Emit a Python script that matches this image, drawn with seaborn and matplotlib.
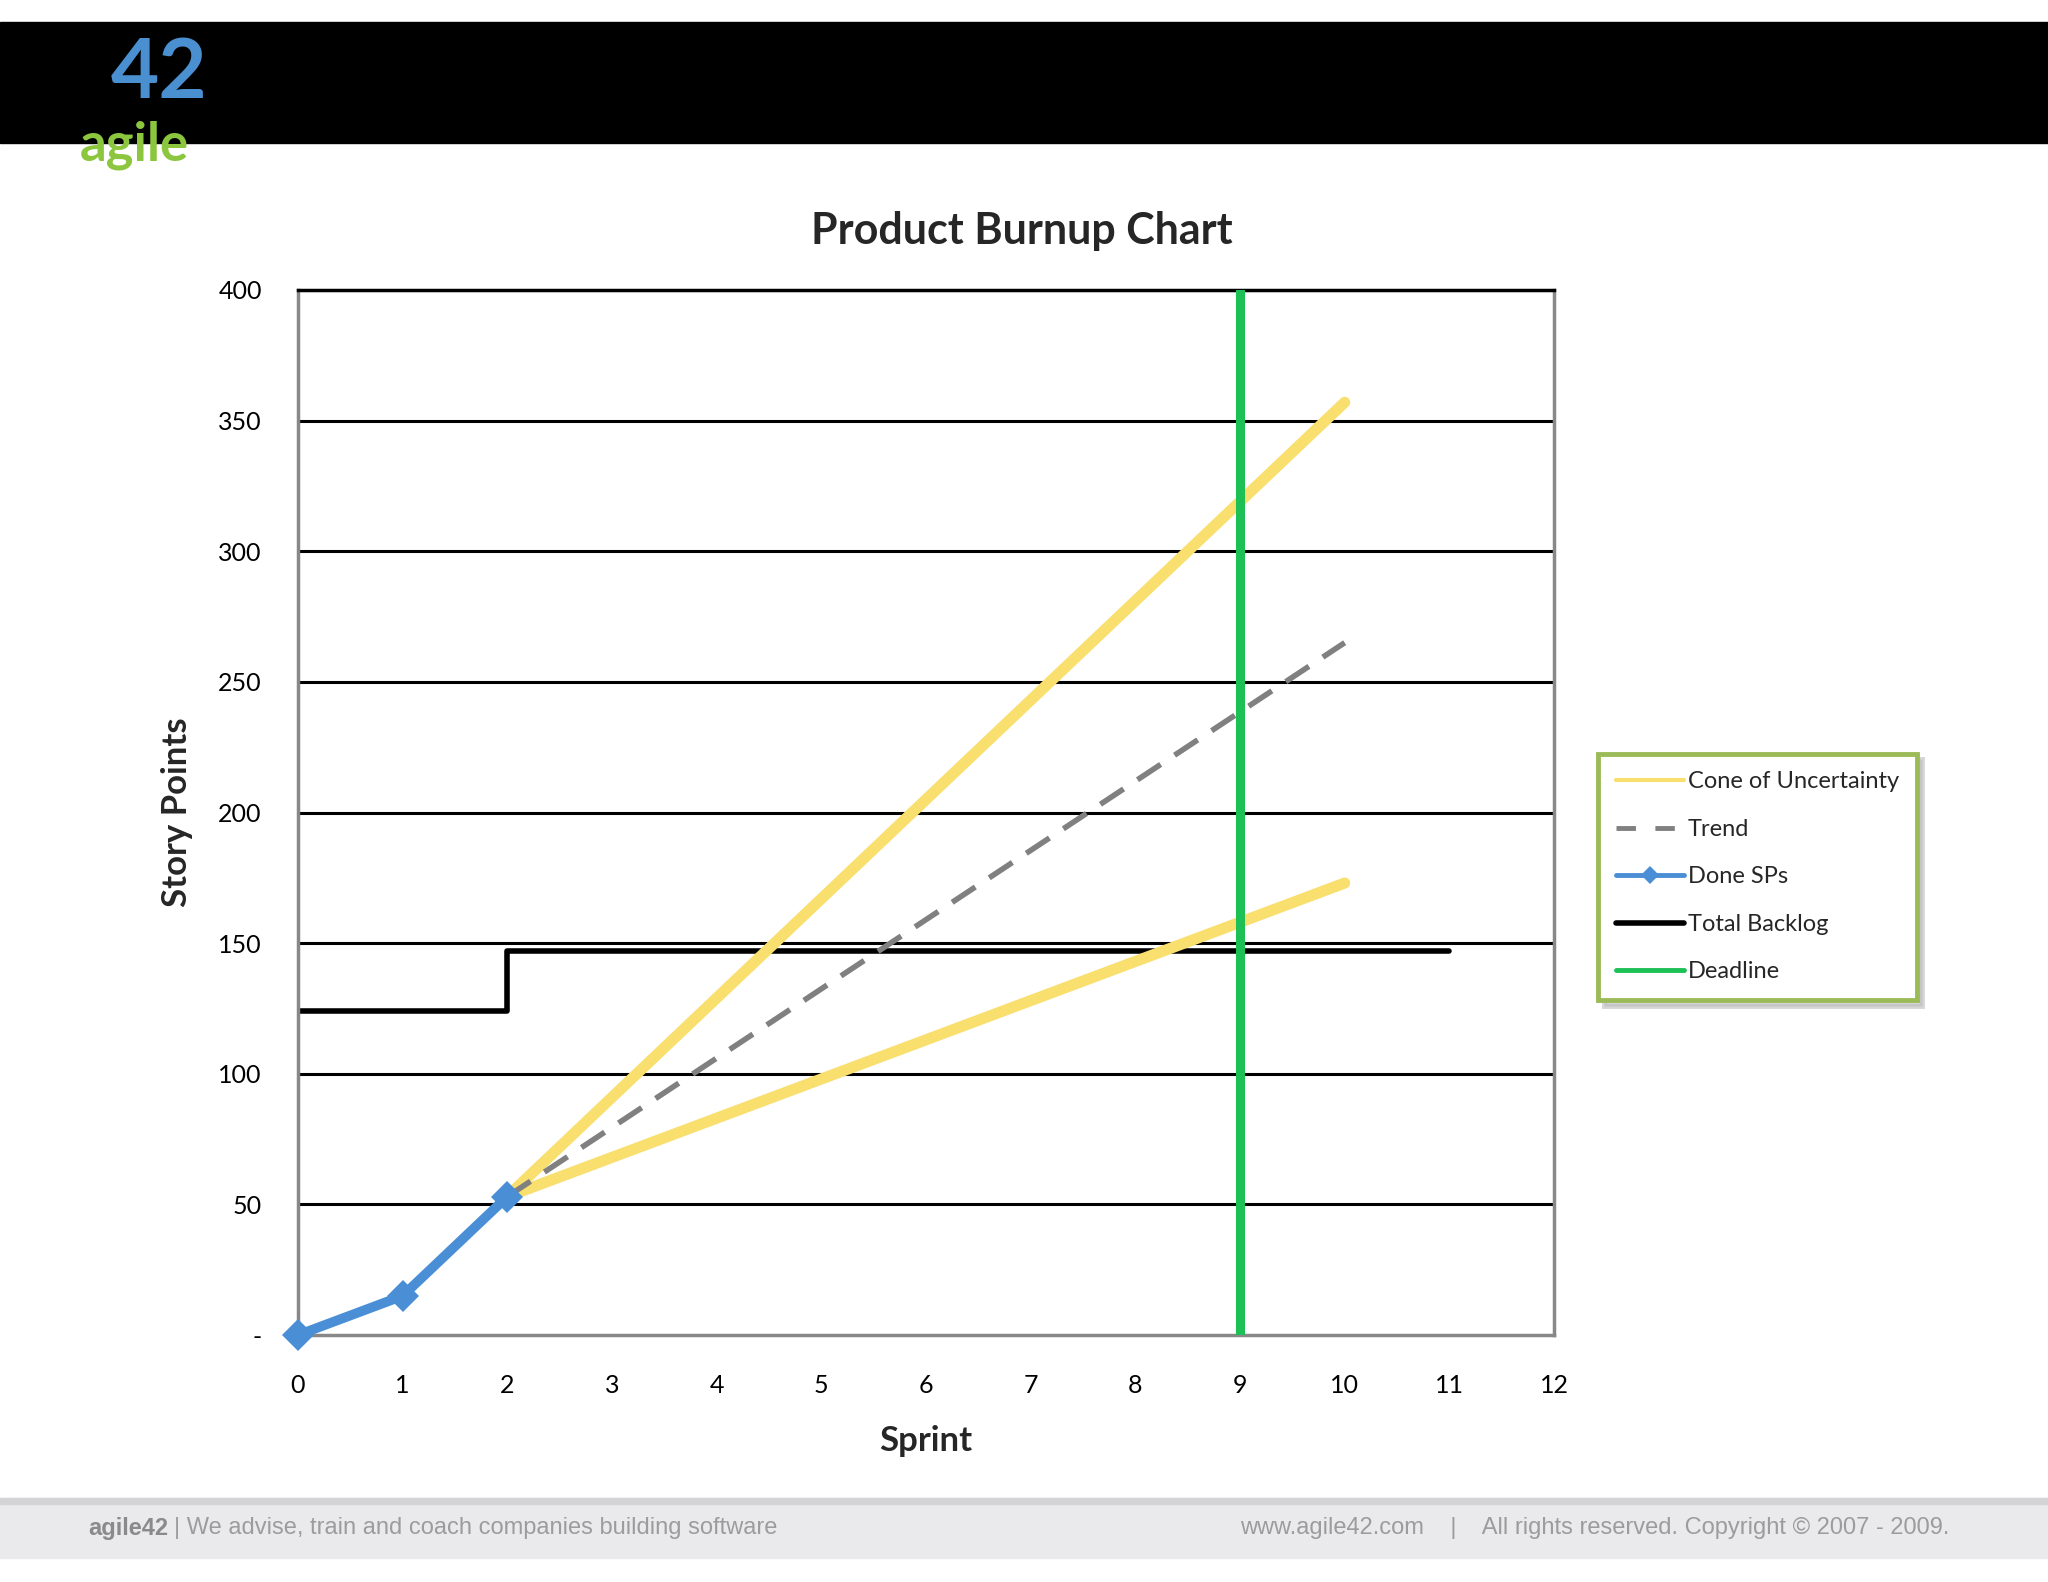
"""
Product burnup chart (agile42 slide)
"""
import matplotlib
matplotlib.use('Agg')
import matplotlib.pyplot as plt
import seaborn as sns
from matplotlib.lines import Line2D
from matplotlib.patches import Rectangle

# Data
sprints_done = [0, 1, 2]
done_sps = [0, 15, 53]

backlog_sprints = [0, 2, 11]
total_backlog = [124, 147, 147]

cone_sprints = [2, 10]
cone_upper = [53, 357]
cone_lower = [53, 173]

trend_sprints = [2, 10]
trend = [53, 265]

deadline_sprint = 9

x_ticks = list(range(0, 13))
y_ticks = [0, 50, 100, 150, 200, 250, 300, 350, 400]
y_tick_labels = ['-', '50', '100', '150', '200', '250', '300', '350', '400']

# Colours
yellow = '#f9df6e'
blue = '#4a8fd6'
green = '#1dc054'
grey = '#808080'
legend_edge = '#9bbb59'

sns.set_style('white')
plt.rcParams['font.family'] = ['Lato', 'DejaVu Sans']

fig = plt.figure(figsize=(20.48, 15.82), dpi=100)
fig.patch.set_facecolor('white')

# Header band and logo
fig.patches.append(Rectangle((0, 1 - 143 / 1582), 1, 121 / 1582,
                             transform=fig.transFigure, color='black', zorder=0))
fig.text(0.0775, 0.938, '42', color='#4a8fd0', fontsize=60, fontweight='bold',
         ha='center', va='baseline', family=['Lato', 'DejaVu Sans'])
fig.text(0.0654, 0.908, 'agile', color='#8cc63f', fontsize=38, fontweight='bold',
         ha='center', va='center', family=['Lato', 'DejaVu Sans'])

# Footer band
fig.patches.append(Rectangle((0, 24 / 1582), 1, 60 / 1582,
                             transform=fig.transFigure, color='#eae9ec', zorder=0))
fig.patches.append(Rectangle((0, 78 / 1582), 1, 6 / 1582,
                             transform=fig.transFigure, color='#d4d3d6', zorder=0))
fig.text(88 / 2048, 54 / 1582, 'agile42', color='#8a8a8a', fontsize=17, fontweight='bold',
         ha='left', va='center', family=['Liberation Sans', 'DejaVu Sans'])
fig.text(174 / 2048, 54 / 1582, '| We advise, train and coach companies building software',
         color='#9c9c9c', fontsize=17, ha='left', va='center',
         family=['Liberation Sans', 'DejaVu Sans'])
fig.text(1949 / 2048, 54 / 1582,
         'www.agile42.com    |    All rights reserved. Copyright \u00a9 2007 - 2009.',
         color='#9c9c9c', fontsize=17, ha='right', va='center',
         family=['Liberation Sans', 'DejaVu Sans'])

# Main chart
ax = fig.add_axes([0.1455, 0.1561, 0.6133, 0.6606])

for yv in y_ticks[1:]:
    ax.axhline(yv, color='black', lw=2.2, zorder=1)

sns.lineplot(x=backlog_sprints, y=total_backlog, ax=ax, color='black', lw=4,
             drawstyle='steps-post', zorder=2)
sns.lineplot(x=cone_sprints, y=cone_upper, ax=ax, color=yellow, lw=8, zorder=3)
sns.lineplot(x=cone_sprints, y=cone_lower, ax=ax, color=yellow, lw=8, zorder=3)
sns.lineplot(x=trend_sprints, y=trend, ax=ax, color=grey, lw=4, zorder=4,
             linestyle=(0, (5, 3)))
ax.axvline(deadline_sprint, color=green, lw=6.5, zorder=5)
sns.lineplot(x=sprints_done, y=done_sps, ax=ax, color=blue, lw=7, marker='D',
             markersize=16, markeredgewidth=0, zorder=6, clip_on=False)

ax.set_xlim(0, 12)
ax.set_ylim(0, 400)
ax.set_xticks(x_ticks)
ax.set_xticklabels([str(x) for x in x_ticks])
ax.set_yticks(y_ticks)
ax.set_yticklabels(y_tick_labels)
ax.tick_params(axis='both', labelsize=18, colors='#888888', labelcolor='black',
               direction='out', length=6, width=1.5)
ax.tick_params(axis='y', pad=20)
ax.tick_params(axis='x', pad=22)

for side in ['left', 'bottom', 'right']:
    ax.spines[side].set_color('#888888')
    ax.spines[side].set_linewidth(2.5)
ax.spines['top'].set_color('black')
ax.spines['top'].set_linewidth(2.5)

fig.text(0.4987, 1 - 231 / 1582, 'Product Burnup Chart', fontsize=31, fontweight='bold',
         ha='center', va='center')
ax.set_xlabel('Sprint', fontsize=25, fontweight='bold', labelpad=20)
ax.set_ylabel('Story Points', fontsize=25, fontweight='bold', labelpad=18)

# Legend
handles = [
    Line2D([], [], color=yellow, lw=3),
    Line2D([], [], color=grey, lw=3.5, linestyle=(0, (4, 4))),
    Line2D([], [], color=blue, lw=3.5, marker='D', markersize=9, markeredgewidth=0),
    Line2D([], [], color='black', lw=4),
    Line2D([], [], color=green, lw=3.5),
]
labels = ['Cone of Uncertainty', 'Trend', 'Done SPs', 'Total Backlog', 'Deadline']
leg = fig.legend(handles, labels, loc='upper left', bbox_to_anchor=(0.7745, 0.531),
                 fontsize=17, frameon=True, fancybox=False, handlelength=2.9,
                 handletextpad=0.15, labelspacing=1.12, borderpad=0.75,
                 shadow={'ox': 4, 'oy': -4, 'color': '#bbbbbb', 'alpha': 0.6})
leg.get_frame().set_edgecolor(legend_edge)
leg.get_frame().set_linewidth(3.5)

plt.savefig('out.png', dpi=100)
